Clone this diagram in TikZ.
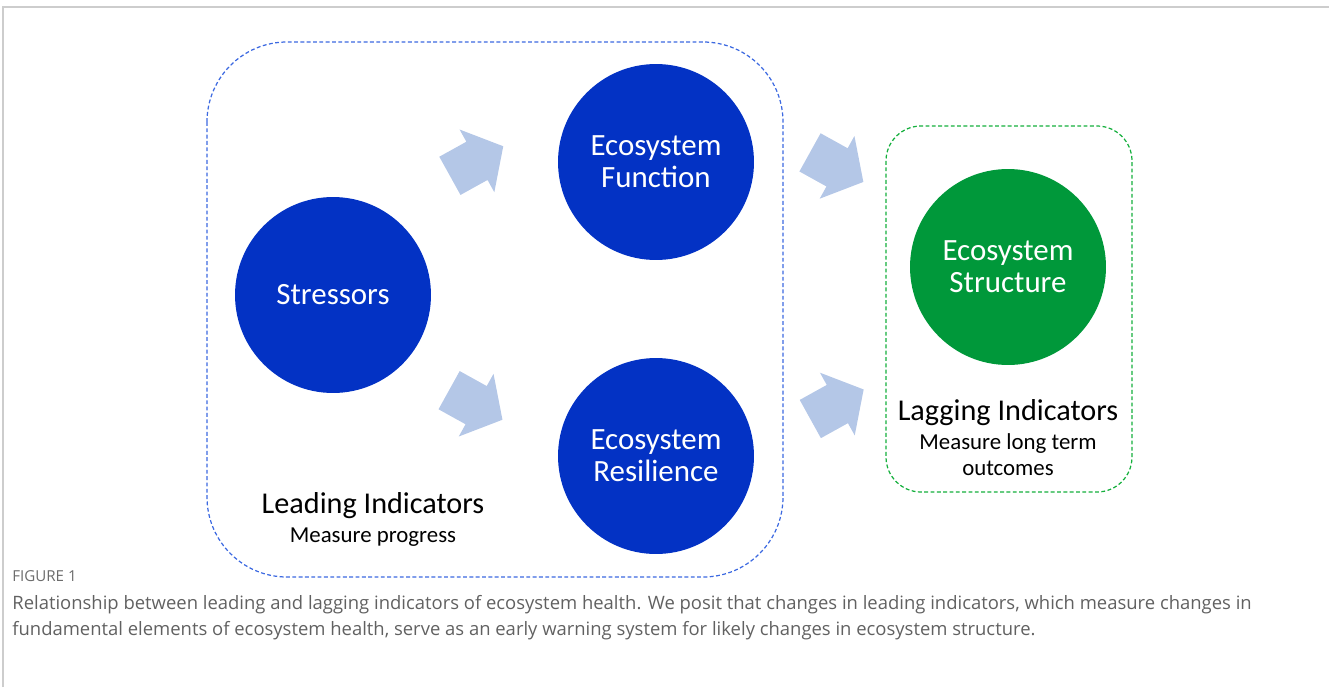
\documentclass[tikz,border=0pt]{standalone}
\usepackage{fontspec}
\setmainfont{Carlito}
\newfontfamily\capfont{Open Sans}
\usepackage{tikz}
\usetikzlibrary{shapes.arrows}
\usetikzlibrary{positioning}
\definecolor{ecoblue}{RGB}{3,50,196}
\definecolor{ecogreen}{RGB}{0,152,58}
\definecolor{flowblue}{RGB}{180,199,231}
\definecolor{leadline}{RGB}{60,105,225}
\definecolor{lagline}{RGB}{20,175,60}
\definecolor{framegray}{RGB}{205,205,205}
\tikzset{
indicator/.style={ % Sets the properties for each circle
circle,
minimum size=3.92cm,
inner sep=0pt,
text=white,
align=center,
font=\fontsize{17.6}{18.4}\selectfont},
lead/.style={indicator, fill=ecoblue},
lag/.style={indicator, fill=ecogreen},
flow/.style={ % Fat block arrows between circles
single arrow,
fill=flowblue,
minimum height=1.22cm,
inner xsep=0pt,
inner ysep=0.43cm,
single arrow head extend=0.28cm,
single arrow tip angle=100,
anchor=tail},
groupbox/.style={line width=0.7pt, dash pattern=on 2.2pt off 1.4pt},
title/.style={font=\fontsize{17.2}{20}\selectfont, anchor=base, inner sep=0pt},
subtitle/.style={font=\fontsize{13}{14.9}\selectfont, anchor=base, align=center, inner sep=0pt},
captext/.style={font=\capfont\fontsize{10.5}{14.7}\selectfont, text=black!62, anchor=base west, align=left, inner sep=0pt}}

\begin{document}
\begin{tikzpicture}[x=0.02cm, y=-0.02cm]
\useasboundingbox (0,0) rectangle (1329,687);
\draw[framegray, line width=1pt] (3,687) -- (3,7) -- (1329,7);
% groups
\draw[groupbox, leadline, rounded corners=1.6cm] (207,42) rectangle (783,577);
\draw[groupbox, lagline, rounded corners=0.7cm] (886,126) rectangle (1132,492);
% circles
\node[lead] (stress) at (333,295) {Stressors};
\node[lead] (func) at (656,162) {Ecosystem\\Function};
\node[lead] (resil) at (656,456) {Ecosystem\\Resilience};
\node[lag] (struct) at (1008,267) {Ecosystem\\Structure};
% arrows
\node[flow, rotate=29] (stofunc) at (449.6,176) {};
\node[flow, rotate=-29] (storesil) at (448.8,390) {};
\node[flow, rotate=-29] (functost) at (809.7,152.2) {};
\node[flow, rotate=29] (resiltost) at (810,419.2) {};
% labels (base of last line)
\node[title] (leadtitle) at (373,513) {Leading Indicators};
\node[subtitle] (leadsub) at (373,542) {Measure progress};
\node[title] (lagtitle) at (1008,420.7) {Lagging Indicators};
\node[subtitle] (lagsub) at (1008,475.5) {Measure long term\\outcomes};
% caption
\node[captext, font=\capfont\fontsize{8.6}{10}\selectfont, text=black!58] (figlabel) at (12,581) {FIGURE 1};
\node[captext] (figcap) at (12,635) {Relationship between leading and lagging indicators of ecosystem health. We posit that changes in leading indicators, which measure changes in\\fundamental elements of ecosystem health, serve as an early warning system for likely changes in ecosystem structure.};
\end{tikzpicture}
\end{document}
